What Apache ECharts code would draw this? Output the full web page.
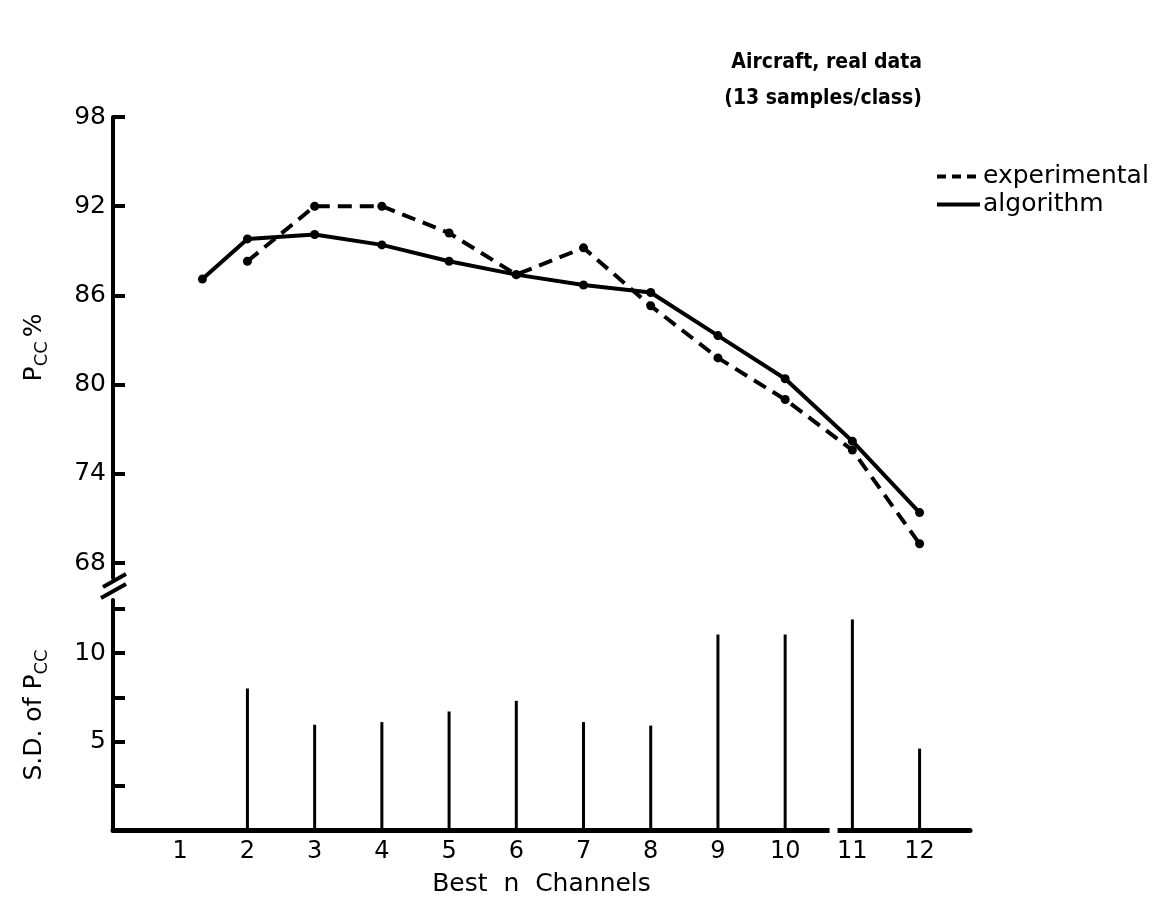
<!DOCTYPE html>
<html>
<head>
<meta charset="utf-8">
<script src="https://cdn.jsdelivr.net/npm/echarts@6/dist/echarts.min.js"></script>
<style>
  html, body { margin: 0; padding: 0; background: #fff; }
  #chart { width: 1153px; height: 898px; }
</style>
</head>
<body>
<div id="chart"></div>
<script>
// Probability of correct classification vs. number of best channels
const expChannels = [2, 3, 4, 5, 6, 7, 8, 9, 10, 11, 12];
const expPcc = [88.3, 92.0, 92.0, 90.2, 87.4, 89.2, 85.3, 81.8, 79.0, 75.6, 69.3];

const algChannels = [1.33, 2, 3, 4, 5, 6, 7, 8, 9, 10, 11, 12];
const algPcc = [87.1, 89.8, 90.1, 89.4, 88.3, 87.4, 86.7, 86.2, 83.3, 80.4, 76.2, 71.4];

// Standard deviation of Pcc for each channel count
const sdChannels = [2, 3, 4, 5, 6, 7, 8, 9, 10, 11, 12];
const sdPcc = [8.0, 5.95, 6.1, 6.7, 7.3, 6.1, 5.9, 11.05, 11.05, 11.9, 4.6];

// Tick positions
const channelTicks = [1, 2, 3, 4, 5, 6, 7, 8, 9, 10, 11, 12];
const pccTicks = [68, 74, 80, 86, 92, 98];
const sdTicks = [2.5, 5, 7.5, 10, 12.5];
const sdLabels = [5, 10];

const INK = '#000';
const FONT = 'DejaVu Sans';

const pairs = (xs, ys) => xs.map((x, i) => [x, ys[i]]);

const chart = echarts.init(document.getElementById('chart'), null, { renderer: 'canvas' });

const axisNameRich = {
  p: { fontFamily: FONT, fontSize: 25, color: INK, lineHeight: 34, verticalAlign: 'middle' },
  s: { fontFamily: FONT, fontSize: 18, color: INK, lineHeight: 20, verticalAlign: 'bottom' }
};

const option = {
  backgroundColor: '#fff',
  animation: false,
  textStyle: { fontFamily: FONT, color: INK },
  title: {
    text: 'Aircraft, real data\n(13 samples/class)',
    left: 917,
    top: 40,
    textAlign: 'right',
    textStyle: {
      fontFamily: '"DejaVu Sans Condensed", "Liberation Sans", sans-serif',
      fontWeight: 'bold', fontSize: 21, lineHeight: 36, color: INK
    }
  },
  legend: {
    orient: 'vertical',
    left: 930,
    top: 159,
    itemWidth: 43,
    itemHeight: 14,
    itemGap: 3,
    itemStyle: { color: 'transparent', borderWidth: 0 },
    lineStyle: { width: 4 },
    textStyle: { fontFamily: FONT, fontSize: 25, color: INK, lineHeight: 25, padding: [0, 0, 0, -2] },
    data: [
      { name: 'experimental', lineStyle: { type: [9, 6], width: 4 } },
      { name: 'algorithm', lineStyle: { width: 4 } }
    ]
  },
  grid: [
    { left: 113, top: 117, width: 857, height: 461 },
    { left: 113, top: 600, width: 857, height: 230 }
  ],
  xAxis: [
    {
      gridIndex: 0, type: 'value', min: 0, max: 12.75, show: false
    },
    {
      gridIndex: 1, type: 'value', min: 0, max: 12.75,
      splitLine: { show: false },
      axisLine: { lineStyle: { color: INK, width: 5 } },
      axisTick: { show: false },
      axisLabel: {
        customValues: channelTicks,
        color: INK, fontFamily: FONT, fontSize: 24, margin: 10
      },
      name: 'Best  n  Channels',
      nameLocation: 'middle',
      nameGap: 42,
      nameTextStyle: { color: INK, fontFamily: FONT, fontSize: 25 }
    }
  ],
  yAxis: [
    {
      gridIndex: 0, type: 'value', min: 67, max: 98,
      splitLine: { show: false },
      axisLine: { show: true, lineStyle: { color: INK, width: 4 } },
      axisTick: {
        show: true, inside: true, length: 12,
        customValues: pccTicks,
        lineStyle: { color: INK, width: 4 }
      },
      axisLabel: {
        customValues: pccTicks,
        color: INK, fontFamily: FONT, fontSize: 25, margin: 7
      },
      name: '{p|P}{s|CC} {p|%}',
      nameLocation: 'middle',
      nameRotate: 90,
      nameGap: 62,
      nameTextStyle: { rich: axisNameRich }
    },
    {
      gridIndex: 1, type: 'value', min: 0, max: 13,
      splitLine: { show: false },
      axisLine: { show: true, lineStyle: { color: INK, width: 4 } },
      axisTick: {
        show: true, inside: true, length: 12,
        customValues: sdTicks,
        lineStyle: { color: INK, width: 4 }
      },
      axisLabel: {
        customValues: sdLabels,
        color: INK, fontFamily: FONT, fontSize: 25, margin: 7
      },
      name: '{p|S.D. of P}{s|CC}',
      nameLocation: 'middle',
      nameRotate: 90,
      nameGap: 62,
      nameTextStyle: { rich: axisNameRich }
    }
  ],
  series: [
    {
      name: 'experimental',
      type: 'line',
      xAxisIndex: 0, yAxisIndex: 0,
      data: pairs(expChannels, expPcc),
      symbol: 'circle', symbolSize: 9,
      itemStyle: { color: INK },
      lineStyle: { color: INK, width: 4, type: [14, 8] }
    },
    {
      name: 'algorithm',
      type: 'line',
      xAxisIndex: 0, yAxisIndex: 0,
      data: pairs(algChannels, algPcc),
      symbol: 'circle', symbolSize: 9,
      itemStyle: { color: INK },
      lineStyle: { color: INK, width: 4 }
    },
    {
      name: 'S.D.',
      type: 'bar',
      xAxisIndex: 1, yAxisIndex: 1,
      data: pairs(sdChannels, sdPcc),
      barWidth: 3,
      itemStyle: { color: INK }
    }
  ]
};

chart.setOption(option);

// Axis breaks: a gap in the channel axis and a "//" mark between the two value axes
const gapPx = chart.convertToPixel({ xAxisIndex: 1, yAxisIndex: 1 }, [10.72, 0]);
const topEnd = chart.convertToPixel({ xAxisIndex: 0, yAxisIndex: 0 }, [0, 67]);
const botStart = chart.convertToPixel({ xAxisIndex: 1, yAxisIndex: 1 }, [0, 13]);
const ax = topEnd[0];
const midY = (topEnd[1] + botStart[1]) / 2;

chart.setOption({
  graphic: [
    {
      type: 'rect',
      shape: { x: gapPx[0] - 4, y: gapPx[1] - 6, width: 8, height: 12 },
      style: { fill: '#fff' },
      z: 100
    },
    {
      type: 'line',
      shape: { x1: ax - 10, y1: midY - 2, x2: ax + 13, y2: midY - 15 },
      style: { stroke: INK, lineWidth: 4 },
      z: 100
    },
    {
      type: 'line',
      shape: { x1: ax - 12, y1: midY + 9, x2: ax + 13, y2: midY - 5 },
      style: { stroke: INK, lineWidth: 4 },
      z: 100
    }
  ]
});
</script>
</body>
</html>
